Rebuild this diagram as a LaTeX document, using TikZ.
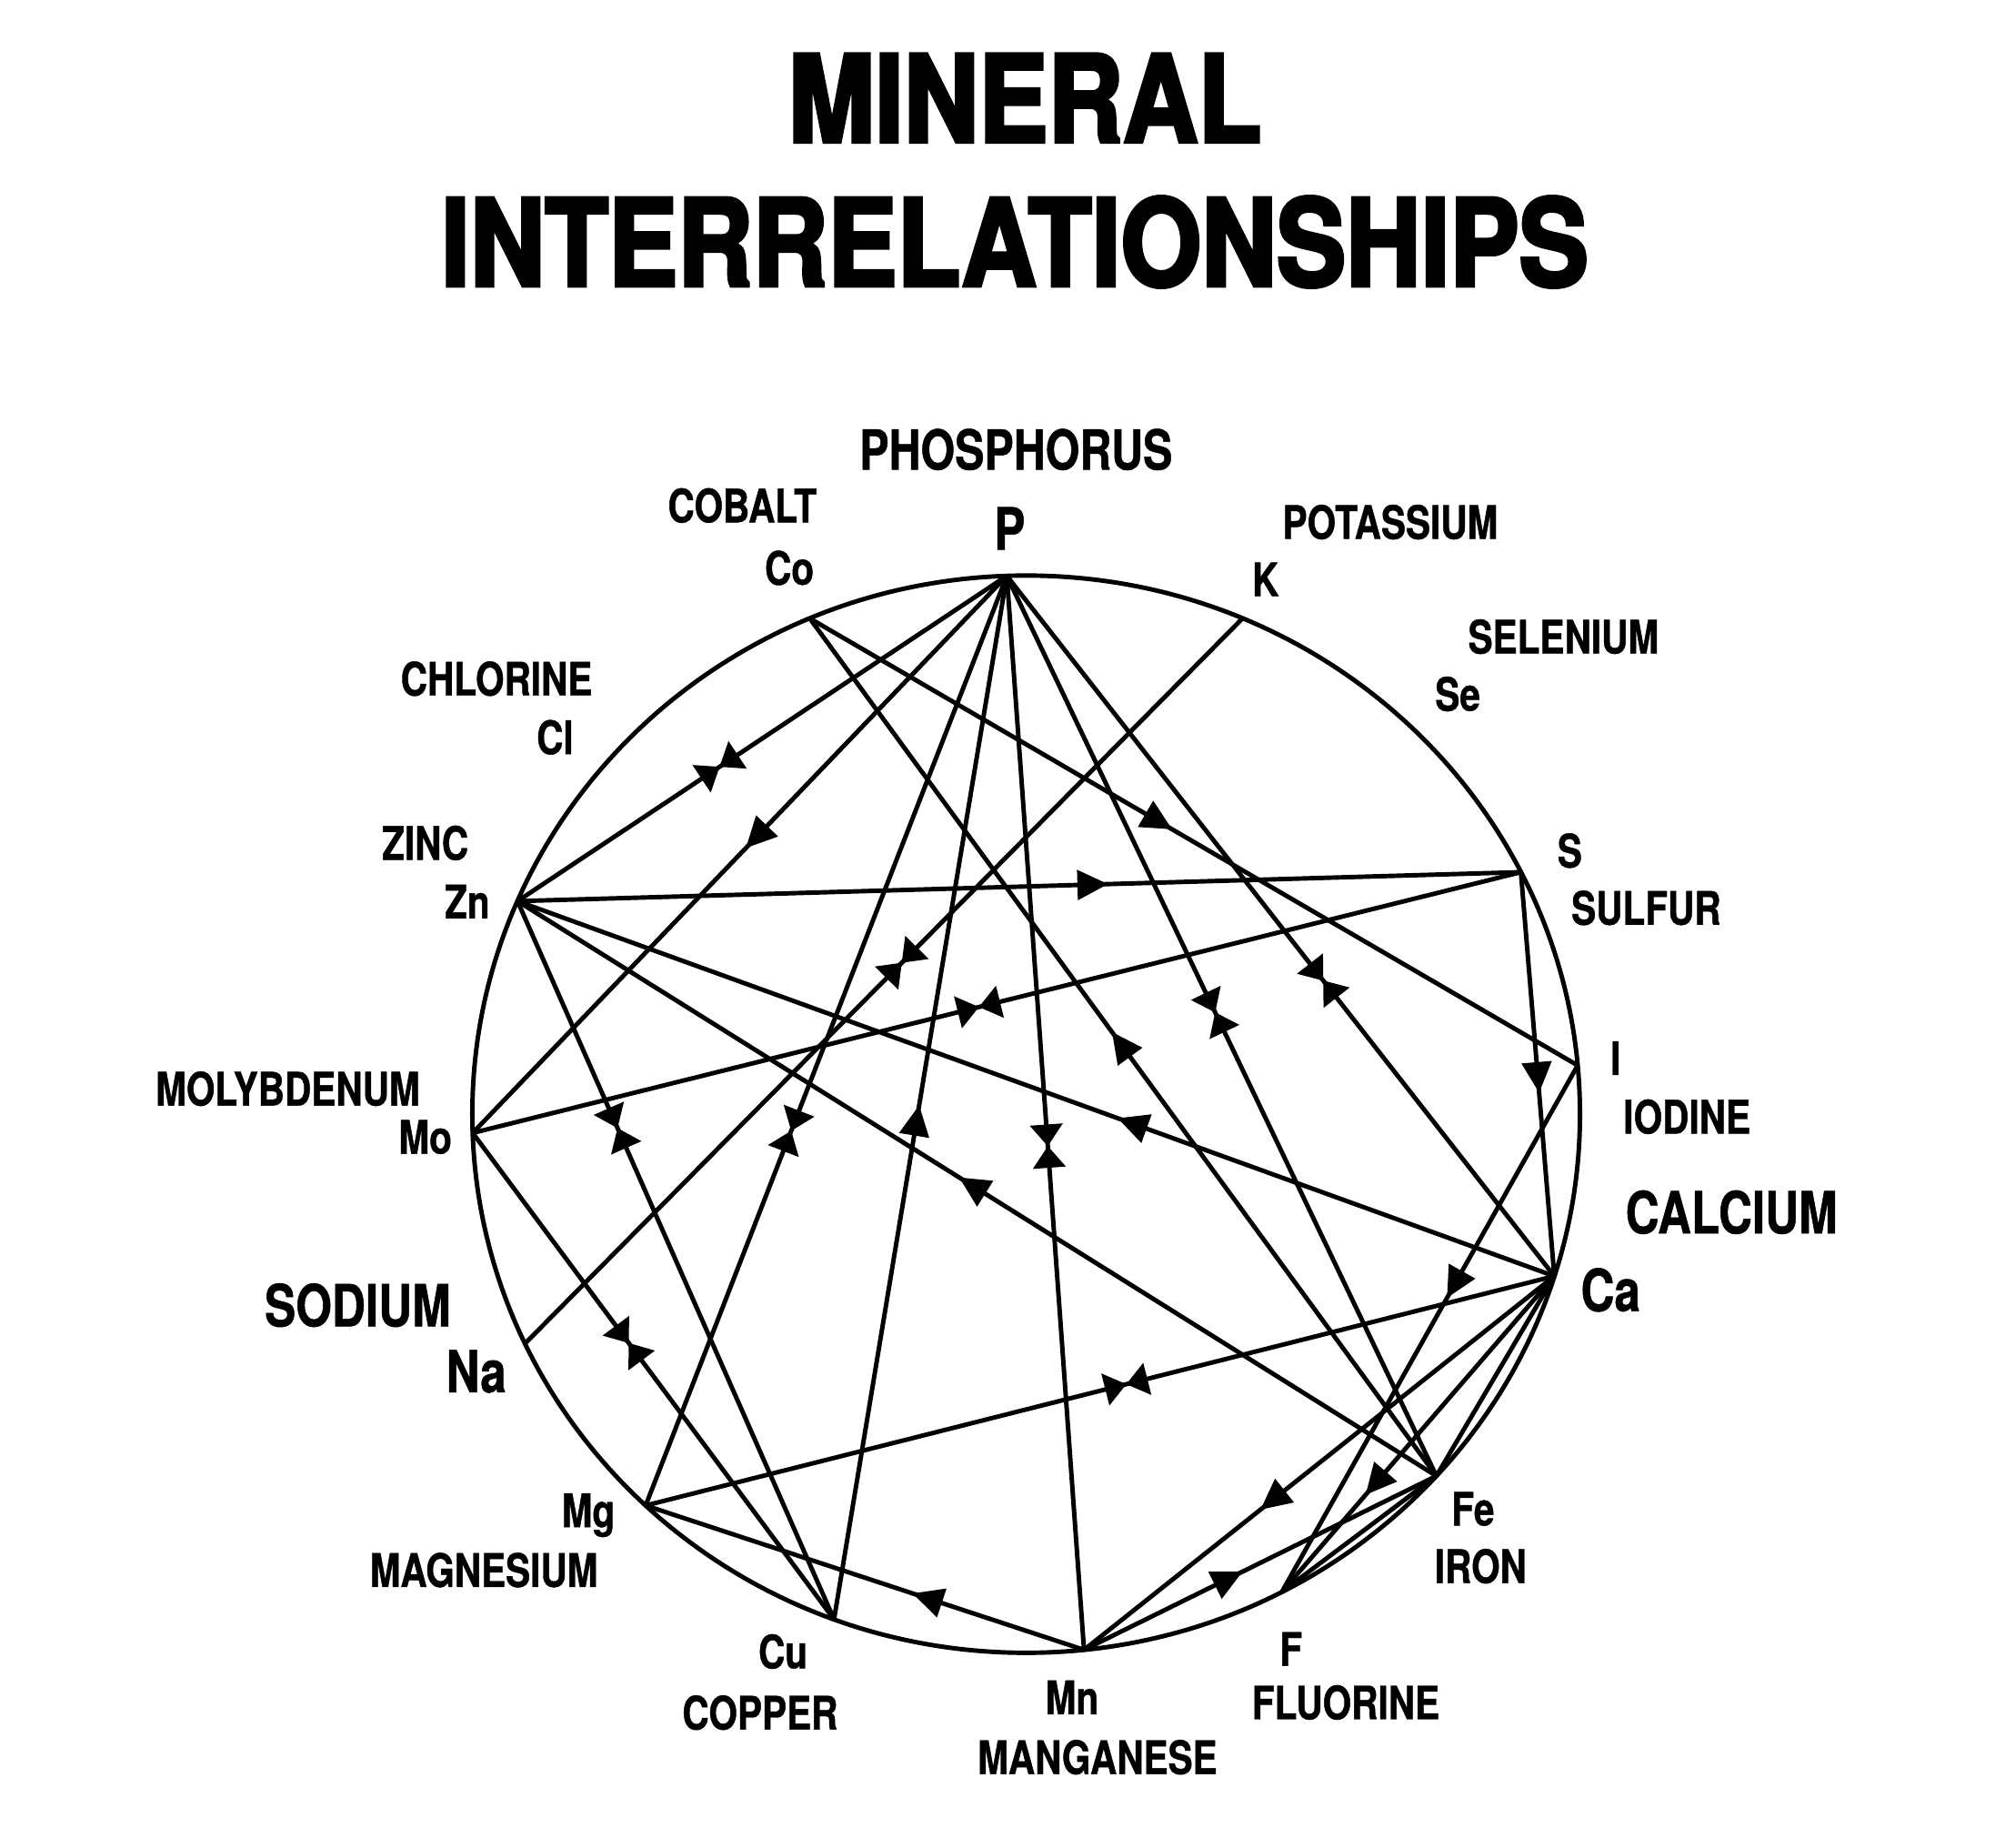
\documentclass[tikz,border=0pt]{standalone}
\usepackage{fontspec}
\usepackage{tikz}
\usetikzlibrary{calc,decorations.markings}
\newfontfamily\lblfont[FakeStretch=0.8,BoldFeatures={FakeBold=0.8}]{TeX Gyre Heros}
\newfontfamily\titlefont[FakeStretch=0.86,BoldFeatures={FakeBold=3}]{TeX Gyre Heros}

\begin{document}
\begin{tikzpicture}[node distance=1.13cm]
	\tikzstyle{title}=[font=\titlefont\bfseries\fontsize{27}{30}\selectfont, inner sep=0pt]
	\tikzstyle{elem}=[font=\lblfont\bfseries\fontsize{10.3}{12}\selectfont, inner sep=0pt]
	\tikzstyle{big elem}=[font=\lblfont\bfseries\fontsize{13}{15}\selectfont, inner sep=0pt]
	\tikzstyle{link}=[line width=1pt]
	\tikzstyle{oneway}=[postaction={decorate}, decoration={markings, mark=at position #1 with {\fill (0.13,0) -- (-0.11,0.12) -- (-0.11,-0.12) -- cycle;}}]
	\tikzstyle{mutual}=[postaction={decorate}, decoration={markings, mark=at position #1 with {\fill (0,0) -- (-0.17,0.13) -- (-0.17,-0.13) -- cycle; \fill (0,0) -- (0.17,0.13) -- (0.17,-0.13) -- cycle;}}]

	\useasboundingbox (0,0) rectangle (15.67,14.51);

	% title
	\node [title] (ttl1) at (8.05,13.74) {MINERAL};
	\node [title] (ttl2) [below of=ttl1, xshift=-0.08cm] {INTERRELATIONSHIPS};

	% wheel
	\coordinate (c) at (8.06,5.76);
	\draw [link] (c) ellipse [x radius=4.35cm, y radius=4.23cm];
	\foreach \el/\ang in {P/92, Co/113, K/67, S/26.7, I/5.2, Ca/-17.5, Fe/-42.2, F/-62.5, Mn/-84, Cu/249.7, Mg/226.6, Na/205.2, Mo/182, Zn/156.7}
		\coordinate (\el) at ($(c)+(\ang:4.35cm and 4.23cm)$);

	% symbols
	\node [big elem] (p) at (7.93,10.36) {P};
	\node [elem] (co) at (6.20,10.05) {Co};
	\node [elem] (k) at (9.94,9.96) {K};
	\node [elem] (se) at (11.45,9.06) {Se};
	\node [elem] (cl) at (4.36,8.72) {Cl};
	\node [elem] (zn) at (3.67,7.43) {Zn};
	\node [elem] (mo) at (3.34,5.58) {Mo};
	\node [big elem] (na) at (3.74,3.74) {Na};
	\node [elem] (mg) at (4.62,2.61) {Mg};
	\node [elem] (cu) at (6.15,1.54) {Cu};
	\node [elem] (mn) at (8.42,1.18) {Mn};
	\node [elem] (f) at (10.14,1.56) {F};
	\node [elem] (fe) at (11.57,2.66) {Fe};
	\node [big elem] (ca) at (12.65,4.38) {Ca};
	\node [elem] (i) at (12.69,6.20) {I};
	\node [elem] (s) at (12.33,7.83) {S};

	% names
	\node [big elem, font=\lblfont\bfseries\fontsize{12.3}{14}\selectfont] (phos) at (7.98,10.98) {PHOSPHORUS};
	\node [elem] (cobalt) at (5.83,10.54) {COBALT};
	\node [elem] (potas) at (10.92,10.41) {POTASSIUM};
	\node [elem] (selen) at (12.28,9.51) {SELENIUM};
	\node [elem] (chlor) at (3.90,9.18) {CHLORINE};
	\node [elem] (zinc) at (3.34,7.89) {ZINC};
	\node [elem] (molyb) at (2.26,5.96) {MOLYBDENUM};
	\node [big elem] (sodium) at (2.81,4.26) {SODIUM};
	\node [elem] (magn) at (3.80,2.18) {MAGNESIUM};
	\node [elem] (copper) at (5.97,1.06) {COPPER};
	\node [elem] (mangan) at (8.62,0.71) {MANGANESE};
	\node [elem] (fluor) at (10.57,1.14) {FLUORINE};
	\node [elem] (iron) at (11.63,2.21) {IRON};
	\node [big elem] (calc) at (13.60,4.99) {CALCIUM};
	\node [elem] (iod) at (13.25,5.74) {IODINE};
	\node [elem] (sulf) at (12.93,7.38) {SULFUR};

	% relations
	\draw [link, mutual=0.413] (Zn) -- (P);
	\draw [link, oneway=0.467] (P) -- (Mo);
	\draw [link, mutual=0.597] (P) -- (Mg);
	\draw [link, oneway=0.477] (Cu) -- (P);
	\draw [link, mutual=0.531] (P) -- (Mn);
	\draw [link, mutual=0.485] (P) -- (Fe);
	\draw [link, mutual=0.578] (P) -- (Ca);
	\draw [link, oneway=0.453] (Co) -- (I);
	\draw [link, oneway=0.502] (Fe) -- (Co);
	\draw [link, mutual=0.475] (K) -- (Na);
	\draw [link, oneway=0.572] (Zn) -- (S);
	\draw [link, oneway=0.406] (Ca) -- (Zn);
	\draw [link, oneway=0.504] (Fe) -- (Zn);
	\draw [link, mutual=0.316] (Zn) -- (Cu);
	\draw [link, mutual=0.483] (Mo) -- (S);
	\draw [link, mutual=0.432] (Mo) -- (Cu);
	\draw [link, mutual=0.529] (Mg) -- (Ca);
	\draw [link, oneway=0.355] (Mn) -- (Mg);
	\draw [link, oneway=0.597] (Ca) -- (Mn);
	\draw [link, oneway=0.408] (Mn) -- (Fe);
	\draw [link, oneway=0.654] (Ca) -- (F);
	\draw [link, oneway=0.505] (S) -- (Ca);
	\draw [link, oneway=0.414] (I) -- (F);
	\draw [link] (Ca) -- (Fe);
	\draw [link] (F) -- (Fe);
\end{tikzpicture}
\end{document}
